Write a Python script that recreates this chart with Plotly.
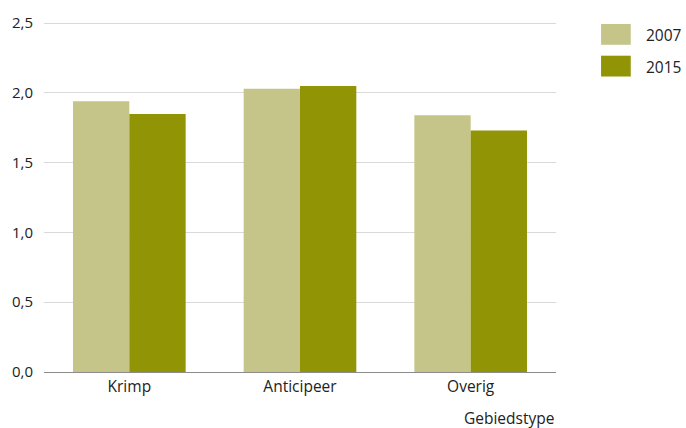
import plotly.graph_objects as go

categories = ["Krimp", "Anticipeer", "Overig"]
series_names = ["2007", "2015"]
values_2007 = [1.94, 2.03, 1.84]
values_2015 = [1.85, 2.05, 1.73]
colors = ["#c5c589", "#909405"]
y_ticks = [0.0, 0.5, 1.0, 1.5, 2.0, 2.5]

FONT = "Open Sans"
TEXT = "#222222"

fig = go.Figure()
for name, vals, col in zip(series_names, [values_2007, values_2015], colors):
    fig.add_trace(go.Bar(
        x=categories, y=vals, name=name,
        marker=dict(color=col, line=dict(width=0)),
        showlegend=False,
    ))

# Legend drawn as large square swatches with labels (positions in pixels from top)
PLOT_TOP, PLOT_H = 16, 356
def py(px):
    return 1 - (px - PLOT_TOP) / PLOT_H

for i, (name, col) in enumerate(zip(series_names, colors)):
    top = 21 + i * 32
    fig.add_shape(type="rect", xref="paper", yref="paper",
                  x0=1.088, x1=1.146, y0=py(top + 21), y1=py(top),
                  fillcolor=col, line=dict(width=0))
    fig.add_annotation(xref="paper", yref="paper", x=1.172, y=py(top + 11),
                       text=name, showarrow=False, xanchor="left", yanchor="middle",
                       font=dict(family=FONT, size=15.5, color=TEXT))

fig.add_annotation(xref="paper", yref="paper", x=1.0, y=py(405),
                   text="Gebiedstype", showarrow=False, xanchor="right", yanchor="top",
                   font=dict(family=FONT, size=15.5, color=TEXT))

fig.update_layout(
    width=686, height=428,
    margin=dict(l=43, r=130, t=PLOT_TOP, b=56),
    paper_bgcolor="white", plot_bgcolor="white",
    barmode="group", bargap=0.34, bargroupgap=0,
    separators=",.",
    font=dict(family=FONT, size=15.5, color=TEXT),
    xaxis=dict(showgrid=False, showline=True, linecolor="#8c8c8c", linewidth=1,
               ticks="", tickfont=dict(size=15.5, color=TEXT)),
    yaxis=dict(range=[0, 2.53], tickvals=y_ticks, tickformat=".1f",
               showgrid=True, gridcolor="#d9d9d9", gridwidth=1,
               zeroline=False, showline=False, ticks="",
               ticklabelstandoff=10,
               tickfont=dict(size=15, color=TEXT)),
)

fig.write_html("out.html")
